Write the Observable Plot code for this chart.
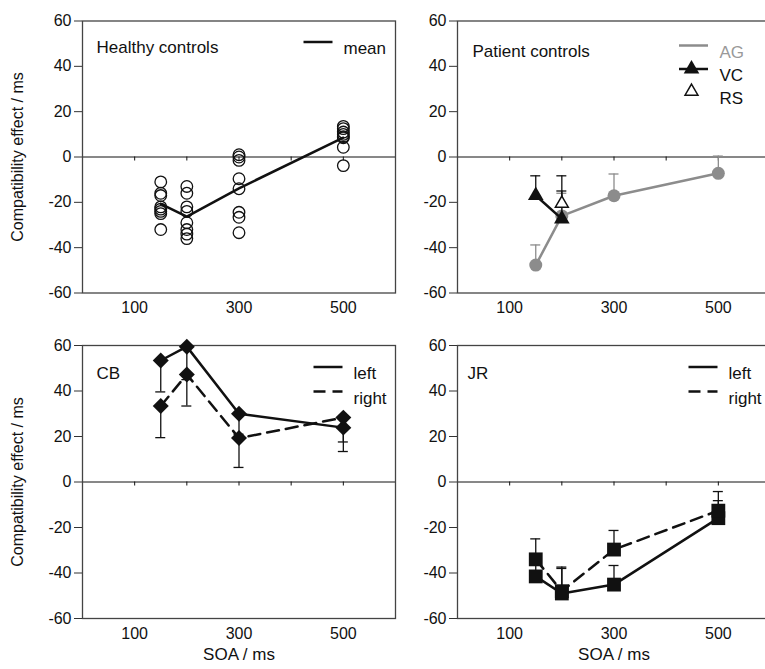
<!DOCTYPE html>
<html><head><meta charset="utf-8">
<script src="https://cdn.jsdelivr.net/npm/d3@7"></script>
<script src="https://cdn.jsdelivr.net/npm/@observablehq/plot@0.6"></script>
<style>
body{margin:0;background:#fff;overflow:hidden}
#chart{position:relative;width:765px;height:669px;overflow:hidden;font-family:"Liberation Sans",Arial,sans-serif;background:#fff}
#chart svg{position:absolute}
</style></head><body><div id="chart"></div>
<script>
// ---- categories / ticks / labels ----
const soaLevels = [150, 200, 300, 500];
const xMinorTicks = [100, 200, 300, 400, 500];
const xTickLabels = [100, 300, 500];
const yTicks = [-60, -40, -20, 0, 20, 40, 60];
const yTitle = "Compatibility effect / ms";
const xTitle = "SOA / ms";
const panelTitles = ["Healthy controls", "Patient controls", "CB", "JR"];
const legendHC = ["mean"];
const legendPC = ["AG", "VC", "RS"];
const legendLR = ["left", "right"];

// ---- Healthy controls: individual effects per SOA ----
const hc150 = [-11, -16, -17, -22, -23, -24, -25, -32];
const hc200 = [-13, -16, -22, -24, -29, -32, -34, -36];
const hc300 = [1, 0, -1.5, -9.6, -14, -24.4, -26.6, -33.4];
const hc500 = [13.5, 12.5, 11, 10, 9, 8.5, 4.3, -3.8];
const hcMean = [-20.7, -26.3, -13.8, 8.5];

// ---- Patient controls ----
const agVal = [-47.7, -26, -17.1, -7.2];
const agErr = [-38.8, -16, -7.5, 0.4];
const vcSoa = [150, 200];
const vcVal = [-17, -27.3];
const vcErr = [-8.3, -8.3];
const rsSoa = [200];
const rsVal = [-20.5];
const rsErr = [-15];

// ---- CB ----
const cbLeft = [53.4, 59.5, 30, 23.9];
const cbLeftErr = [39.6, 45, 21, 17.6];
const cbRight = [33.4, 47.3, 19.3, 28.3];
const cbRightErr = [19.5, 33.4, 6.4, 13.4];

// ---- JR ----
const jrLeft = [-41.5, -49, -45.1, -15.9];
const jrLeftErr = [-35, -38, -36.7, -8.2];
const jrRight = [-34, -48, -29.7, -12.6];
const jrRightErr = [-25, -37.4, -21.3, -4.2];

// ---- helpers ----
const rows = (xs, vs, es) => xs.map((s, i) => ({soa: s, v: vs[i], e: es ? es[i] : null}));
const hcRows = [];
[hc150, hc200, hc300, hc500].forEach((arr, i) => arr.forEach(v => hcRows.push({soa: soaLevels[i], v})));

const FONT = '"Liberation Sans", Arial, sans-serif';
const lineSym = {draw(ctx) { ctx.moveTo(-14.5, 0); ctx.lineTo(14.5, 0); }};
const DASH = "12,7";

function errMarks(data, color) {
  return [
    Plot.ruleX(data, {x: "soa", y1: "v", y2: "e", stroke: color, strokeWidth: 1.3}),
    Plot.ruleY(data, {y: "e", x1: "soa", x2: "soa", insetLeft: -5, insetRight: -5, stroke: color, strokeWidth: 1.3})
  ];
}

function panel({left, top, width, height, mt, mb, mr, isLeft, isBottom, title, titleDx, titleDy, marks}) {
  const base = [
    Plot.ruleY([0], {stroke: "#111", strokeWidth: 1}),
    Plot.ruleX(xMinorTicks, {x: d => d, y1: 0, y2: 0, insetBottom: -4, stroke: "#111", strokeWidth: 1}),
    Plot.frame({stroke: "#444", strokeWidth: 1.3}),
    Plot.axisY(yTicks, {tickSize: 8, tickPadding: 3, fontSize: 16, tickFormat: d => String(d), stroke: "#333", label: null}),
    Plot.axisX(xTickLabels, {tickSize: 0, tickPadding: 9, fontSize: 16, tickFormat: d => String(d), label: null}),
    Plot.text([title], {frameAnchor: "top-left", dx: titleDx, dy: titleDy, textAnchor: "start", fontSize: 17, fill: "#111"})
  ];
  if (isLeft) base.push(Plot.text([yTitle], {frameAnchor: "left", dx: -65, rotate: -90, textAnchor: "middle", fontSize: 16, fill: "#111"}));
  if (isBottom) base.push(Plot.text([xTitle], {frameAnchor: "bottom", dy: 41, textAnchor: "middle", fontSize: 17, fill: "#111"}));
  const p = Plot.plot({
    width, height, marginLeft: 82, marginRight: mr, marginTop: mt, marginBottom: mb,
    x: {domain: [0, 600], label: null},
    y: {domain: [-60, 60], label: null},
    style: {fontFamily: FONT, fontSize: "16px", background: "transparent", overflow: "visible", color: "#111"},
    marks: [...base, ...marks]
  });
  p.style.left = left + "px";
  p.style.top = top + "px";
  document.getElementById("chart").appendChild(p);
}

// ---- Panel 1: Healthy controls ----
panel({
  left: 0, top: 0, width: 400, height: 325, mt: 20.5, mb: 32.5, mr: 5,
  isLeft: true, isBottom: false, title: panelTitles[0], titleDx: 14, titleDy: 19.5,
  marks: [
    Plot.dot(hcRows, {x: "soa", y: "v", r: 5.8, stroke: "#111", strokeWidth: 1.3, fill: "none"}),
    Plot.line(rows(soaLevels, hcMean), {x: "soa", y: "v", stroke: "#111", strokeWidth: 2.5}),
    Plot.dot(legendHC, {frameAnchor: "top-right", dx: -77.5, dy: 21, symbol: lineSym, r: 1, fill: "none", stroke: "#111", strokeWidth: 2.5}),
    Plot.text(legendHC, {frameAnchor: "top-right", dx: -52, dy: 20.5, textAnchor: "start", fontSize: 17, fill: "#111"})
  ]
});

// ---- Panel 2: Patient controls ----
const ag = rows(soaLevels, agVal, agErr);
const vc = rows(vcSoa, vcVal, vcErr);
const rs = rows(rsSoa, rsVal, rsErr);
const GRAY = "#8c8c8c";
panel({
  left: 375, top: 0, width: 395, height: 325, mt: 20.5, mb: 32.5, mr: 0,
  isLeft: false, isBottom: false, title: panelTitles[1], titleDx: 15, titleDy: 24,
  marks: [
    ...errMarks(ag, GRAY),
    Plot.line(ag, {x: "soa", y: "v", stroke: GRAY, strokeWidth: 2.5}),
    Plot.dot(ag, {x: "soa", y: "v", r: 6.5, fill: GRAY}),
    ...errMarks(vc, "#111"),
    ...errMarks(rs, "#111"),
    Plot.line(vc, {x: "soa", y: "v", stroke: "#111", strokeWidth: 2.5}),
    Plot.dot(rs, {x: "soa", y: "v", symbol: "triangle", r: 4.8, fill: "white", stroke: "#111", strokeWidth: 1.5}),
    Plot.dot(vc, {x: "soa", y: "v", symbol: "triangle", r: 5.8, fill: "#111"}),
    // legend
    Plot.dot([legendPC[0]], {frameAnchor: "top-right", dx: -77, dy: 24.5, symbol: lineSym, r: 1, fill: "none", stroke: GRAY, strokeWidth: 2.5}),
    Plot.dot([legendPC[1]], {frameAnchor: "top-right", dx: -77, dy: 48, symbol: lineSym, r: 1, fill: "none", stroke: "#111", strokeWidth: 2.5}),
    Plot.dot([legendPC[1]], {frameAnchor: "top-right", dx: -79, dy: 48, symbol: "triangle", r: 5.8, fill: "#111"}),
    Plot.dot([legendPC[2]], {frameAnchor: "top-right", dx: -79, dy: 70.5, symbol: "triangle", r: 4.8, fill: "white", stroke: "#111", strokeWidth: 1.5}),
    Plot.text([legendPC[0]], {frameAnchor: "top-right", dx: -51, dy: 24.5, textAnchor: "start", fontSize: 17, fill: "#999"}),
    Plot.text([legendPC[1]], {frameAnchor: "top-right", dx: -51, dy: 48, textAnchor: "start", fontSize: 17, fill: "#111"}),
    Plot.text([legendPC[2]], {frameAnchor: "top-right", dx: -51, dy: 70.5, textAnchor: "start", fontSize: 17, fill: "#111"})
  ]
});

function lrLegend() {
  return [
    Plot.dot([legendLR[0]], {frameAnchor: "top-right", dx: -67.5, dy: 21.5, symbol: lineSym, r: 1, fill: "none", stroke: "#111", strokeWidth: 2.5}),
    Plot.dot([legendLR[1]], {frameAnchor: "top-right", dx: -67.5, dy: 46, symbol: lineSym, r: 1, fill: "none", stroke: "#111", strokeWidth: 2.5, strokeDasharray: DASH}),
    Plot.text([legendLR[0]], {frameAnchor: "top-right", dx: -42, dy: 21.5, textAnchor: "start", fontSize: 17, fill: "#111"}),
    Plot.text([legendLR[1]], {frameAnchor: "top-right", dx: -42, dy: 46, textAnchor: "start", fontSize: 17, fill: "#111"})
  ];
}

// ---- Panel 3: CB ----
const cbL = rows(soaLevels, cbLeft, cbLeftErr);
const cbR = rows(soaLevels, cbRight, cbRightErr);
panel({
  left: 0, top: 324, width: 400, height: 345, mt: 21, mb: 51, mr: 5,
  isLeft: true, isBottom: true, title: panelTitles[2], titleDx: 14, titleDy: 21,
  marks: [
    Plot.line(cbL, {x: "soa", y: "v", stroke: "#111", strokeWidth: 2.5}),
    Plot.line(cbR, {x: "soa", y: "v", stroke: "#111", strokeWidth: 2.5, strokeDasharray: DASH}),
    ...errMarks(cbL, "#111"),
    ...errMarks(cbR, "#111"),
    Plot.dot(cbL, {x: "soa", y: "v", symbol: "diamond2", r: 7.2, fill: "#111", stroke: "none"}),
    Plot.dot(cbR, {x: "soa", y: "v", symbol: "diamond2", r: 7.2, fill: "#111", stroke: "none"}),
    ...lrLegend()
  ]
});

// ---- Panel 4: JR ----
const jrL = rows(soaLevels, jrLeft, jrLeftErr);
const jrR = rows(soaLevels, jrRight, jrRightErr);
panel({
  left: 375, top: 324, width: 395, height: 345, mt: 21, mb: 51, mr: 0,
  isLeft: false, isBottom: true, title: panelTitles[3], titleDx: 10, titleDy: 21,
  marks: [
    Plot.line(jrL, {x: "soa", y: "v", stroke: "#111", strokeWidth: 2.5}),
    Plot.line(jrR, {x: "soa", y: "v", stroke: "#111", strokeWidth: 2.5, strokeDasharray: DASH}),
    ...errMarks(jrL, "#111"),
    ...errMarks(jrR, "#111"),
    Plot.dot(jrL, {x: "soa", y: "v", symbol: "square", r: 7.8, fill: "#111", stroke: "none"}),
    Plot.dot(jrR, {x: "soa", y: "v", symbol: "square", r: 7.8, fill: "#111", stroke: "none"}),
    ...lrLegend()
  ]
});
</script></body></html>
